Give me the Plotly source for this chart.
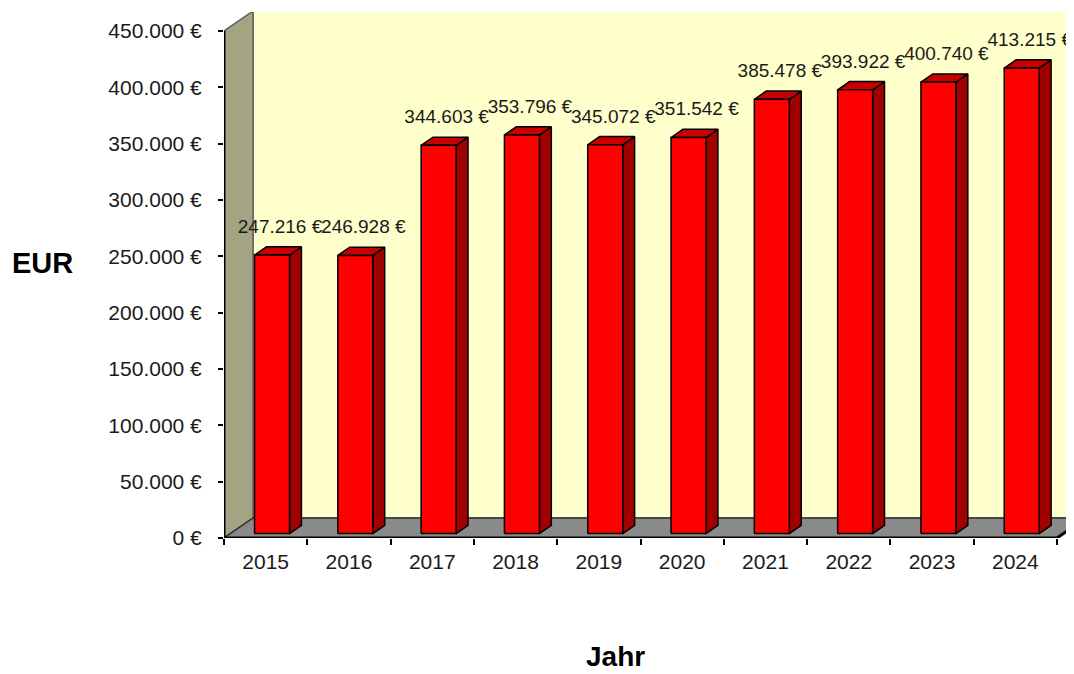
import plotly.graph_objects as go

# Daten
jahre = ["2015", "2016", "2017", "2018", "2019", "2020", "2021", "2022", "2023", "2024"]
werte = [247216, 246928, 344603, 353796, 345072, 351542, 385478, 393922, 400740, 413215]
y_ticks = [0, 50000, 100000, 150000, 200000, 250000, 300000, 350000, 400000, 450000]
y_max = 450000


def euro(v):
    return f"{v:,.0f}".replace(",", ".") + " €"


# Seite hat 8px Rand im Browser -> Figur entsprechend kleiner/verschoben
rand = 8
W, H = 1074 - rand, 674 - rand
links, unten, oben = 224 - rand, 538 - rand, 4
kat_px = 83.3
wert_px = 507 / y_max
x_hi = (W - links) / kat_px
y_hi = (unten - oben) / wert_px

tief_x = 29 / kat_px        # Tiefe der Wand/Boden
tief_y = 20 / wert_px
f0, f1 = 0.22, 0.63         # Lage der Säulen in der Tiefe
breite = 35 / kat_px
n = len(jahre)

fig = go.Figure()


def flaeche(xs, ys, farbe, linie, lw=1.5):
    fig.add_trace(go.Scatter(
        x=xs, y=ys, mode="lines", fill="toself", fillcolor=farbe,
        line=dict(color=linie, width=lw), hoverinfo="skip", showlegend=False
    ))


# Rückwand
flaeche([tief_x, x_hi + 1, x_hi + 1, tief_x, tief_x],
        [tief_y, tief_y, y_max + tief_y, y_max + tief_y, tief_y],
        "#FFFFCC", "#8C8C8C", 2)
# Seitenwand
flaeche([0, tief_x, tief_x, 0, 0],
        [0, tief_y, y_max + tief_y, y_max, 0],
        "#A4A484", "#606060", 1.5)
# Boden
flaeche([0, n, n + tief_x, x_hi + 1, x_hi + 1, tief_x, 0],
        [0, 0, tief_y, tief_y, tief_y, tief_y, 0],
        "#8A8A8A", "#303030", 1.5)

# Säulen
dx, dy = (f1 - f0) * tief_x, (f1 - f0) * tief_y
fx, fy, sx, sy, tx, ty = [], [], [], [], [], []
lab_x, lab_y, lab_t = [], [], []
for i, v in enumerate(werte):
    x0 = i + 0.5 - breite / 2 + f0 * tief_x
    x1 = x0 + breite
    b0 = f0 * tief_y
    top = b0 + v
    fx += [x0, x1, x1, x0, x0, None]
    fy += [b0, b0, top, top, b0, None]
    sx += [x1, x1 + dx, x1 + dx, x1, x1, None]
    sy += [b0, b0 + dy, top + dy, top, b0, None]
    tx += [x0, x1, x1 + dx, x0 + dx, x0, None]
    ty += [top, top, top + dy, top + dy, top, None]
    lab_x.append((x0 + x1) / 2 + 8 / kat_px)
    lab_y.append(top + 27 / wert_px)
    lab_t.append(euro(v))

flaeche(sx, sy, "#A00000", "#000000")
flaeche(tx, ty, "#C80000", "#000000")
flaeche(fx, fy, "#FF0000", "#000000")

# Achsenlinien
fig.add_trace(go.Scatter(x=[0, 0], y=[0, y_max], mode="lines",
                         line=dict(color="#000000", width=3),
                         hoverinfo="skip", showlegend=False))
fig.add_trace(go.Scatter(x=[0, n, n + tief_x], y=[0, 0, tief_y], mode="lines",
                         line=dict(color="#000000", width=3),
                         hoverinfo="skip", showlegend=False))

# Datenbeschriftung
fig.add_trace(go.Scatter(
    x=lab_x, y=lab_y, mode="text", text=lab_t, textposition="middle center",
    textfont=dict(family="Liberation Sans, Arial", size=19, color="#1a1a1a"),
    hoverinfo="skip", showlegend=False, cliponaxis=False
))

fig.update_layout(
    width=W, height=H,
    margin=dict(l=links, r=0, t=oben, b=H - unten),
    paper_bgcolor="white", plot_bgcolor="white",
    font=dict(family="Liberation Sans, Arial", color="#1a1a1a"),
    xaxis=dict(
        range=[0, x_hi], showgrid=False, zeroline=False, showline=False,
        tickmode="array", tickvals=[i + 0.5 for i in range(n)], ticktext=jahre,
        ticks="", tickfont=dict(size=21), ticklabelstandoff=9,
        minor=dict(tickmode="array", tickvals=list(range(n + 1)), ticks="outside",
                   ticklen=6, tickwidth=1.5, tickcolor="#000000", showgrid=False),
    ),
    yaxis=dict(
        range=[0, y_hi], showgrid=False, zeroline=False, showline=False,
        tickmode="array", tickvals=y_ticks, ticktext=[euro(v) for v in y_ticks],
        ticks="outside", ticklen=5, tickwidth=1.5, tickcolor="#000000",
        tickfont=dict(size=21), ticklabelstandoff=12,
    ),
    annotations=[
        dict(text="<b>EUR</b>", xref="paper", yref="paper",
             x=(42 - 224) / (W - links), y=(538 - 263) / (unten - oben),
             xanchor="center", yanchor="middle",
             showarrow=False, font=dict(size=29, color="#000000")),
        dict(text="<b>Jahr</b>", xref="paper", yref="paper",
             x=(615 - 224) / (W - links), y=-(657 - 538) / (unten - oben),
             xanchor="center", yanchor="middle",
             showarrow=False, font=dict(size=28, color="#000000")),
    ],
)

fig.write_html("out.html")
